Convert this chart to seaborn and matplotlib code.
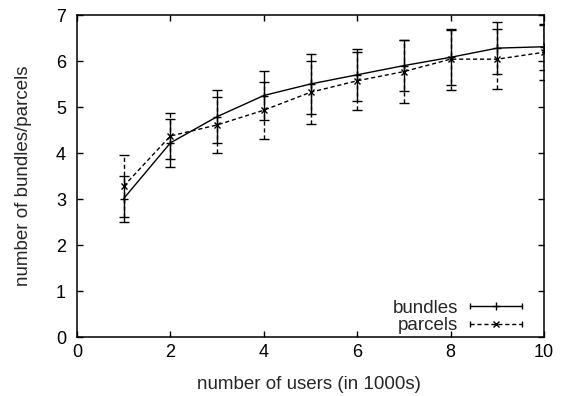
import numpy as np
import pandas as pd
import matplotlib
matplotlib.use("Agg")
import matplotlib.pyplot as plt
import seaborn as sns
from matplotlib.lines import Line2D
from matplotlib.legend_handler import HandlerLine2D, HandlerTuple

users = [1, 2, 3, 4, 5, 6, 7, 8, 9, 10]
bundles = [3.01, 4.22, 4.79, 5.25, 5.50, 5.70, 5.90, 6.08, 6.28, 6.31]
bundles_err = [0.50, 0.52, 0.58, 0.53, 0.66, 0.56, 0.55, 0.60, 0.57, 0.50]
parcels = [3.28, 4.37, 4.61, 4.93, 5.32, 5.57, 5.77, 6.04, 6.04, 6.19]
parcels_err = [0.67, 0.50, 0.61, 0.62, 0.69, 0.63, 0.68, 0.66, 0.65, 0.60]
x_ticks = [0, 2, 4, 6, 8, 10]
y_ticks = [0, 1, 2, 3, 4, 5, 6, 7]

sns.set_style("ticks")
plt.rcParams['font.family'] = ['Liberation Sans', 'DejaVu Sans']
plt.rcParams['font.size'] = 13

fig = plt.figure(figsize=(5.68, 3.96), dpi=100)
ax = fig.add_axes([77/568, 1-337/396, (544-77)/568, (337-15)/396])

df = pd.DataFrame({"users": users, "bundles": bundles, "parcels": parcels})

sns.lineplot(data=df, x="users", y="bundles", ax=ax, color="black", lw=1.0,
             marker="+", markersize=6, markeredgewidth=1.0, markeredgecolor="black",
             linestyle="-")
sns.lineplot(data=df, x="users", y="parcels", ax=ax, color="black", lw=1.0,
             marker="x", markersize=4.5, markeredgewidth=1.0, markeredgecolor="black",
             linestyle=(0, (3, 2)))

eb1 = ax.errorbar(users, bundles, yerr=bundles_err, fmt="none", ecolor="black",
                  elinewidth=1.0, capsize=3.5, capthick=1.0)
eb2 = ax.errorbar(users, parcels, yerr=parcels_err, fmt="none", ecolor="black",
                  elinewidth=1.0, capsize=3.5, capthick=1.0)
for c in eb2[2]:
    c.set_linestyle((0, (3, 2)))

ax.set_xlim(0, 10)
ax.set_ylim(0, 7)
ax.set_xticks(x_ticks)
ax.set_yticks(y_ticks)
ax.tick_params(direction="in", top=True, right=True, length=4, width=1.0,
               labelsize=13, colors="black")
ax.tick_params(axis="x", pad=5)
ax.tick_params(axis="y", pad=8)
for s in ax.spines.values():
    s.set_linewidth(1.1)
    s.set_color("black")
ax.set_xlabel("number of users (in 1000s)", fontsize=13.5)
ax.set_ylabel("number of bundles/parcels", fontsize=13.5)
ax.xaxis.set_label_coords(0.497, -0.122)
ax.yaxis.set_label_coords(-0.097, 0.5)

# legend handles with gnuplot-like horizontal errorbar samples
cap1 = Line2D([0], [0], color="black", lw=1.0, marker="|", markersize=5, markeredgewidth=1.0)
main1 = Line2D([0], [0], color="black", lw=0, marker="+", markersize=6, markeredgewidth=1.0)
cap2 = Line2D([0], [0], color="black", lw=1.0, linestyle=(0, (3, 2)), marker="|",
              markersize=5, markeredgewidth=1.0)
main2 = Line2D([0], [0], color="black", lw=0, marker="x", markersize=4, markeredgewidth=1.0)
hm = {cap1: HandlerLine2D(numpoints=2, marker_pad=0), cap2: HandlerLine2D(numpoints=2, marker_pad=0),
      main1: HandlerLine2D(numpoints=1), main2: HandlerLine2D(numpoints=1),
      tuple: HandlerTuple(ndivide=1)}
leg = ax.legend([(cap1, main1), (cap2, main2)], ["bundles", "parcels"],
                handler_map=hm, loc="lower right", frameon=False, markerfirst=False,
                handlelength=2.8, handletextpad=0.6, labelspacing=0.0,
                borderpad=0, borderaxespad=0, fontsize=13.5,
                bbox_to_anchor=((522-77)/467, 0.009))

fig.savefig("out.png", dpi=100)
